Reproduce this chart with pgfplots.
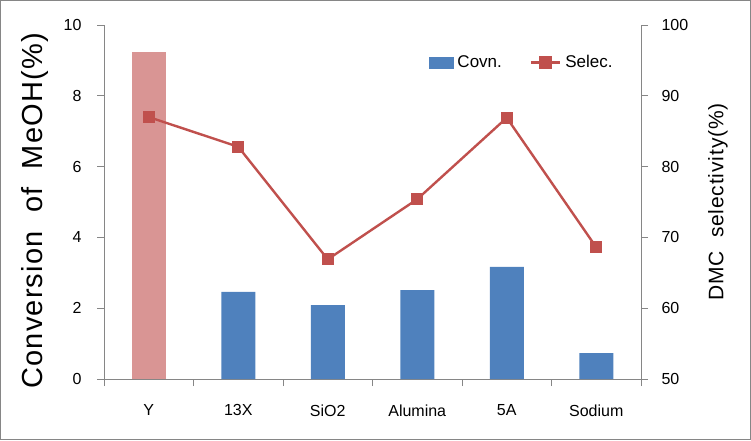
\documentclass[border=0pt]{standalone}
\usepackage{pgfplots}
\pgfplotsset{compat=1.18}
\usepackage{fontspec}
\setmainfont{Liberation Sans}
\newfontfamily\wideface[LetterSpace=4]{Liberation Sans}
\definecolor{barblue}{HTML}{4F81BD}
\definecolor{barpink}{HTML}{D99594}
\definecolor{linered}{HTML}{C0504D}
\definecolor{axgray}{HTML}{868686}
\begin{document}
\begin{tikzpicture}
\draw[axgray, line width=1pt] (0.5pt,0.5pt) rectangle (750.5pt,439.5pt);
\begin{axis}[
  at={(104pt,61pt)}, anchor=south west,
  scale only axis, width=537pt, height=354pt,
  xmin=-0.5, xmax=5.5, ymin=0, ymax=10,
  axis x line*=bottom, axis y line*=left,
  axis line style={axgray, line width=0.8pt},
  xtick={0,...,5}, xticklabels={Y,13X,SiO2,Alumina,5A,Sodium},
  minor xtick={-0.5,0.5,...,5.5},
  major x tick style={draw=none},
  minor tick length=7pt,
  tick align=outside,
  ytick={0,2,...,10},
  major y tick style={axgray, line width=0.8pt},
  minor x tick style={axgray, line width=0.8pt},
  major tick length=7pt,
  ticklabel style={font=\fontsize{16}{18}\selectfont, text=black},
  /pgf/number format/assume math mode=true,
  xticklabel style={yshift=-15pt},
  yticklabel style={xshift=-12pt},
  ylabel={Conversion\ \ of\ \ MeOH(\%)},
  ylabel style={font=\wideface\fontsize{29}{32}\selectfont, at={(axis description cs:-0.128,0.475)}, anchor=center},
  ybar, bar width=34pt,
]
\addplot[fill=barblue, draw=none, bar shift=0pt] coordinates {(1,2.46) (2,2.09) (3,2.51) (4,3.17) (5,0.73)};
\addplot[fill=barpink, draw=none, bar shift=0pt] coordinates {(0,9.24)};
\end{axis}
\begin{axis}[
  at={(104pt,61pt)}, anchor=south west,
  scale only axis, width=537pt, height=354pt,
  xmin=-0.5, xmax=5.5, ymin=50, ymax=100,
  axis x line=none, axis y line*=right,
  axis line style={axgray, line width=0.8pt},
  ytick={50,60,...,100},
  tick align=outside,
  major tick length=7pt,
  major y tick style={axgray, line width=0.8pt},
  ticklabel style={font=\fontsize{16}{18}\selectfont, text=black},
  yticklabel style={xshift=10pt},
  /pgf/number format/assume math mode=true,
  ylabel={DMC\ \ selectivity(\%)},
  ylabel style={font=\wideface\fontsize{21}{24}\selectfont, at={(axis description cs:1.1434,0.5)}, anchor=center},
  legend style={at={(0.605,0.894)}, anchor=west, draw=none, fill=none, legend columns=2, inner sep=0pt,
    font=\fontsize{17}{19}\selectfont, /tikz/every odd column/.append style={column sep=2pt}, /tikz/every even column/.append style={column sep=26pt}},
]
\addlegendimage{legend image code/.code={\fill[barblue] (0pt,-5.5pt) rectangle (24pt,5.5pt);}}
\addlegendentry{Covn.}
\addplot[linered, line width=2.4pt, mark=square*, mark size=4.8pt, mark options={solid},
  legend image code/.code={\draw[linered, line width=2.4pt] (0pt,0pt) -- (29pt,0pt); \fill[linered] (9.5pt,-5pt) rectangle (19.5pt,5pt);}] coordinates {(0,87) (1,82.8) (2,66.9) (3,75.4) (4,86.9) (5,68.6)};
\addlegendentry{Selec.}
\end{axis}
\end{tikzpicture}
\end{document}
